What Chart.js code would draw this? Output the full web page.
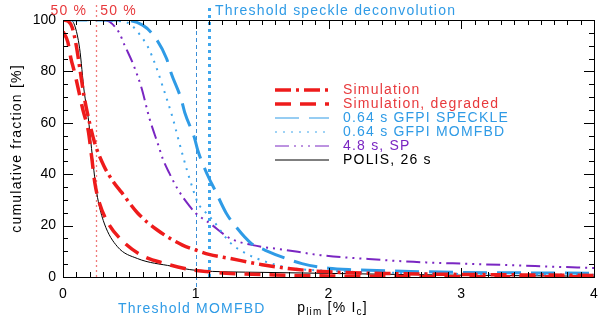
<!DOCTYPE html>
<html>
<head>
<meta charset="utf-8">
<script src="https://cdn.jsdelivr.net/npm/chart.js@4.4.0/dist/chart.umd.min.js"></script>
<style>
html,body{margin:0;padding:0;background:#fff}
#wrap{width:600px;height:323px}
</style>
</head>
<body>
<div id="wrap"><canvas id="myChart" width="600" height="323"></canvas></div>
<script>
// values (x = p_lim in % Ic, y = cumulative fraction in %)
const simX = [0, 0.04, 0.07, 0.1, 0.13, 0.16, 0.2, 0.24, 0.31, 0.38, 0.44, 0.56, 0.71, 0.9, 1.0, 1.1, 1.26, 1.5, 1.75, 2.0, 2.5, 3.0, 3.5, 4.0]
const simY = [100, 99.5, 97, 90, 80, 70, 60, 52, 43, 37, 33, 25, 18.3, 12.4, 10.5, 8.8, 7.2, 4.8, 3.0, 2.0, 1.3, 1.0, 0.8, 0.6]

const degX = [0, 0.036, 0.06, 0.09, 0.12, 0.15, 0.19, 0.22, 0.24, 0.275, 0.34, 0.44, 0.59, 0.77, 0.95, 1.1, 1.3, 1.6, 2.0, 2.5, 3.0, 3.5, 4.0]
const degY = [95.5, 91.5, 85, 79, 72, 65, 57, 45, 36.6, 28.7, 21, 14.4, 8.5, 5.2, 3.0, 2.0, 1.3, 0.8, 0.4, 0.2, 0.1, 0.1, 0.1]

const speckleX = [0, 0.45, 0.6, 0.69, 0.78, 0.817, 0.89, 0.917, 0.99, 1.017, 1.093, 1.143, 1.23, 1.29, 1.42, 1.52, 1.68, 1.8, 2.0, 2.2, 2.5, 3.0, 3.5, 4.0]
const speckleY = [100, 100, 98, 93.5, 85, 79, 69.3, 64, 54.2, 49, 39.2, 34, 24.8, 20.4, 13, 10.5, 7.2, 5.2, 3.4, 2.8, 2.3, 1.8, 1.6, 1.5]

const momfbdX = [0, 0.45, 0.515, 0.59, 0.64, 0.678, 0.716, 0.753, 0.79, 0.829, 0.866, 0.904, 0.94, 0.98, 1.017, 1.068, 1.13, 1.257, 1.38, 1.53, 1.7, 2.0, 2.5, 3.0, 3.5, 4.0]
const momfbdY = [100, 99.5, 98, 93.5, 89.5, 85, 79.7, 73.8, 68, 61.4, 54.2, 47, 40.5, 34, 28.7, 25.5, 22, 13.5, 9.1, 5.9, 3.6, 2.4, 1.6, 1.2, 1.0, 0.9]

const spX = [0, 0.3, 0.351, 0.426, 0.464, 0.527, 0.59, 0.653, 0.716, 0.753, 0.8, 0.866, 0.955, 1.0, 1.106, 1.26, 1.43, 1.68, 1.94, 2.3, 2.64, 3.0, 3.39, 3.7, 4.0]
const spY = [100, 100, 99.3, 94.8, 90.2, 83, 73.8, 61.4, 51.6, 45.8, 40.5, 34, 27.5, 24.8, 20.9, 15, 12.4, 10.5, 8.5, 7.0, 5.9, 5.2, 4.6, 4.0, 3.5]

const polisX = [0, 0.05, 0.087, 0.125, 0.16, 0.19, 0.215, 0.238, 0.26, 0.31, 0.41, 0.56, 0.82, 1.0, 1.5, 2.0, 3.0, 4.0]
const polisY = [100, 100, 98, 89, 72, 62, 50, 39, 31, 21, 11.8, 7.2, 4.2, 2.6, 1.8, 1.4, 0.7, 0.3]

const labels = ['Simulation', 'Simulation, degraded', '0.64 s GFPI SPECKLE', '0.64 s GFPI MOMFBD', '4.8 s, SP', 'POLIS, 26 s']

const half = 0.25          // 50 % marker
const thrMomfbd = 1.0
const thrSpeckle = 1.1

const xMajor = [0, 1, 2, 3, 4]
const yMajor = [0, 20, 40, 60, 80, 100]

const RED = '#ee1b1b'
const BLUE = '#2f9be6'
const LBLUE = '#3fa6ec'
const PURPLE = '#7a26c2'

function pts(xs, ys){ return xs.map((x, i) => ({x: x, y: ys[i]})) }

function ds(label, xs, ys, color, width, dash, legendWidth, textColor){
    return {
        label: label,
        data: pts(xs, ys),
        borderColor: color,
        borderWidth: width,
        borderDash: dash,
        legendWidth: legendWidth,
        textColor: textColor,
        pointRadius: 0,
        fill: false,
        cubicInterpolationMode: 'monotone'
    }
}

const TXT = '14px "Liberation Sans", Arial, sans-serif'

function txt(ctx, s, x, y, color, align){
    ctx.fillStyle = color
    ctx.textAlign = align || 'left'
    ctx.textBaseline = 'middle'
    ctx.fillText(s, x, y)
}

function vline(ctx, x, y1, y2, color, w, dash){
    ctx.save()
    ctx.strokeStyle = color
    ctx.lineWidth = w
    ctx.setLineDash(dash)
    ctx.beginPath()
    ctx.moveTo(x, y1)
    ctx.lineTo(x, y2)
    ctx.stroke()
    ctx.restore()
}

function noPad(s){ s.paddingLeft = 0; s.paddingRight = 0; s.paddingTop = 0; s.paddingBottom = 0 }

const decor = {
    id: 'decor',
    beforeDatasetsDraw(chart){
        const {ctx, chartArea: a, scales: {x}} = chart
        vline(ctx, Math.round(x.getPixelForValue(half)) + 0.5, a.bottom, a.top - 16, '#f07a7a', 1.3, [2, 3])
        vline(ctx, Math.round(x.getPixelForValue(thrMomfbd)) + 0.5, a.bottom + 10, a.top, '#3a8ed6', 1, [4, 3])
        vline(ctx, Math.round(x.getPixelForValue(thrSpeckle)) + 0.5, a.bottom, a.top - 16, LBLUE, 3, [3, 4])
    },
    afterDraw(chart){
        const {ctx, chartArea: a, scales: {x, y}} = chart
        ctx.save()
        // frame
        ctx.strokeStyle = '#000'
        ctx.lineWidth = 1
        ctx.setLineDash([])
        ctx.strokeRect(Math.round(a.left) + 0.5, Math.round(a.top) + 0.5, Math.round(a.right - a.left), Math.round(a.bottom - a.top))
        // inward ticks on all four sides
        ctx.beginPath()
        for (let i = 0; i <= 40; i++){
            const px = Math.round(x.getPixelForValue(i / 10)) + 0.5
            const len = i % 10 === 0 ? 9 : 5
            ctx.moveTo(px, a.bottom); ctx.lineTo(px, a.bottom - len)
            ctx.moveTo(px, a.top); ctx.lineTo(px, a.top + len)
        }
        for (let i = 0; i <= 20; i++){
            const py = Math.round(y.getPixelForValue(i * 5)) + 0.5
            const len = i % 4 === 0 ? 10 : 5
            ctx.moveTo(a.left, py); ctx.lineTo(a.left + len, py)
            ctx.moveTo(a.right, py); ctx.lineTo(a.right - len, py)
        }
        ctx.stroke()

        ctx.font = TXT
        ctx.letterSpacing = '1.2px'
        // annotations
        const hx = x.getPixelForValue(half)
        txt(ctx, '50 %', hx - 9, 11, '#e8393c', 'right')
        txt(ctx, '50 %', hx + 4, 11, '#e8393c', 'left')
        txt(ctx, 'Threshold speckle deconvolution', x.getPixelForValue(thrSpeckle) + 6, 11, BLUE, 'left')
        txt(ctx, 'Threshold MOMFBD', x.getPixelForValue(thrMomfbd) - 4, 309, BLUE, 'center')

        // x title: p_lim [% I_c]
        const small = '10px "Liberation Sans", Arial, sans-serif'
        const parts = [['p', TXT, 0], ['lim', small, 4], [' [% I', TXT, 0], ['c', small, 4], [']', TXT, 0]]
        let w = 0
        parts.forEach(p => { ctx.font = p[1]; w += ctx.measureText(p[0]).width })
        let cx = (a.left + a.right) / 2 + 4 - w / 2
        parts.forEach(p => {
            ctx.font = p[1]
            txt(ctx, p[0], cx, 308 + p[2], '#000', 'left')
            cx += ctx.measureText(p[0]).width
        })

        // y title
        ctx.font = TXT
        ctx.save()
        ctx.translate(17, (a.top + a.bottom) / 2)
        ctx.rotate(-Math.PI / 2)
        txt(ctx, 'cumulative fraction [%]', 0, 0, '#000', 'center')
        ctx.restore()

        // legend inside the plot
        chart.data.datasets.forEach((d, i) => {
            const ly = 90 + i * 14
            ctx.save()
            ctx.strokeStyle = d.borderColor
            ctx.lineWidth = d.legendWidth
            ctx.setLineDash(d.borderDash)
            ctx.beginPath()
            ctx.moveTo(275, ly)
            ctx.lineTo(329, ly)
            ctx.stroke()
            ctx.restore()
            txt(ctx, d.label, 343, ly, d.textColor, 'left')
        })
        ctx.restore()
    }
}

Chart.defaults.font.family = '"Liberation Sans", Arial, sans-serif'
Chart.defaults.font.size = 14
Chart.defaults.color = '#000'

const config = {
    type: 'line',
    data: {
        datasets: [
            ds(labels[0], simX, simY, RED, 3.5, [16, 5, 3, 5], 3.5, '#e8393c'),
            ds(labels[1], degX, degY, RED, 3.5, [16, 9], 3.5, '#e8393c'),
            ds(labels[2], speckleX, speckleY, BLUE, 3, [24, 10], 1, BLUE),
            ds(labels[3], momfbdX, momfbdY, LBLUE, 2, [2, 6], 1, BLUE),
            ds(labels[4], spX, spY, PURPLE, 2, [14, 5, 2, 5, 2, 5, 2, 5], 1, PURPLE),
            ds(labels[5], polisX, polisY, '#000', 1, [], 1, '#000')
        ]
    },
    options: {
        responsive: false,
        animation: false,
        devicePixelRatio: 1,
        layout: {padding: {top: 20, right: 6, left: 0, bottom: 0}},
        plugins: {legend: {display: false}, tooltip: {enabled: false}},
        scales: {
            x: {
                type: 'linear', min: 0, max: 4,
                afterFit: s => { s.height = 46; noPad(s) },
                afterBuildTicks: s => { s.ticks = xMajor.map(v => ({value: v})) },
                grid: {display: false, drawTicks: false},
                border: {display: false},
                ticks: {padding: 9, maxRotation: 0}
            },
            y: {
                type: 'linear', min: 0, max: 100,
                afterFit: s => { s.width = 63; noPad(s) },
                afterBuildTicks: s => { s.ticks = yMajor.map(v => ({value: v})) },
                grid: {display: false, drawTicks: false},
                border: {display: false},
                ticks: {padding: 7}
            }
        }
    },
    plugins: [decor]
}

new Chart(document.getElementById('myChart'), config)
</script>
</body>
</html>
